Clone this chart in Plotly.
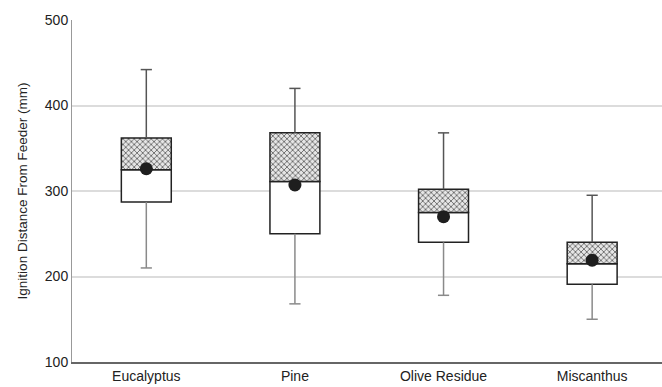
import plotly.graph_objects as go

categories = ["Eucalyptus", "Pine", "Olive Residue", "Miscanthus"]
whisker_min = [210, 168, 178, 150]
q1 = [287, 250, 240, 191]
median = [325, 311, 275, 215]
q3 = [362, 368, 302, 240]
whisker_max = [442, 420, 368, 295]
mean = [326, 307, 270, 219]
y_ticks = [100, 200, 300, 400, 500]

x = list(range(len(categories)))
box_w = 0.336

fig = go.Figure()

# upper whiskers (line only, caps drawn separately)
fig.add_trace(go.Scatter(
    x=x, y=q3, mode="markers", marker=dict(size=1, opacity=0),
    error_y=dict(type="data", symmetric=False,
                 array=[h - b for h, b in zip(whisker_max, q3)],
                 arrayminus=[0] * 4, color="#555", thickness=1.5, width=0),
    showlegend=False, hoverinfo="skip"))
fig.add_trace(go.Scatter(
    x=x, y=whisker_max, mode="markers",
    marker=dict(symbol="line-ew", size=8, line=dict(color="#555", width=1.5)),
    showlegend=False, hoverinfo="skip"))

# lower whiskers
fig.add_trace(go.Scatter(
    x=x, y=q1, mode="markers", marker=dict(size=1, opacity=0),
    error_y=dict(type="data", symmetric=False,
                 array=[0] * 4,
                 arrayminus=[a - l for a, l in zip(q1, whisker_min)],
                 color="#8a8a8a", thickness=1.5, width=0),
    showlegend=False, hoverinfo="skip"))
fig.add_trace(go.Scatter(
    x=x, y=whisker_min, mode="markers",
    marker=dict(symbol="line-ew", size=8, line=dict(color="#8a8a8a", width=1.5)),
    showlegend=False, hoverinfo="skip"))

# lower half of box (white)
fig.add_trace(go.Bar(
    x=x, base=q1, y=[m - a for m, a in zip(median, q1)], width=box_w,
    marker=dict(color="white", line=dict(color="#222", width=1.5)),
    showlegend=False, hoverinfo="skip"))

# upper half of box (cross-hatched)
fig.add_trace(go.Bar(
    x=x, base=median, y=[b - m for b, m in zip(q3, median)], width=box_w,
    marker=dict(color="white", line=dict(color="#222", width=1.5),
                pattern=dict(shape="x", size=4, solidity=0.35,
                             fgcolor="#555", bgcolor="#e6e6e6", fillmode="replace")),
    showlegend=False, hoverinfo="skip"))

# means
fig.add_trace(go.Scatter(
    x=x, y=mean, mode="markers",
    marker=dict(size=13, color="#1e1e1e", line=dict(width=0)),
    showlegend=False, hoverinfo="skip"))

fig.update_layout(
    width=662, height=387,
    margin=dict(l=72, r=0, t=20, b=25),
    paper_bgcolor="white", plot_bgcolor="white",
    font=dict(family="Liberation Sans, Arial, sans-serif", size=14, color="#222"),
    barmode="overlay",
    xaxis=dict(
        tickmode="array", tickvals=x, ticktext=categories,
        range=[-0.5, 3.47], showgrid=False, zeroline=False,
        showline=True, linecolor="#666", linewidth=2,
        ticks="outside", ticklen=0, tickcolor="white",
        tickfont=dict(size=14, color="#222")),
    yaxis=dict(
        range=[100, 500], tickvals=y_ticks, showgrid=True,
        gridcolor="#dcdcdc", gridwidth=1.5, zeroline=False,
        showline=True, linecolor="#999", linewidth=1,
        ticks="outside", ticklen=0, tickcolor="white",
        tickfont=dict(size=14, color="#222"),
        title=dict(text="Ignition Distance From Feeder (mm)",
                   font=dict(size=13.5, color="#222"), standoff=14)),
)

fig.write_html("out.html")
